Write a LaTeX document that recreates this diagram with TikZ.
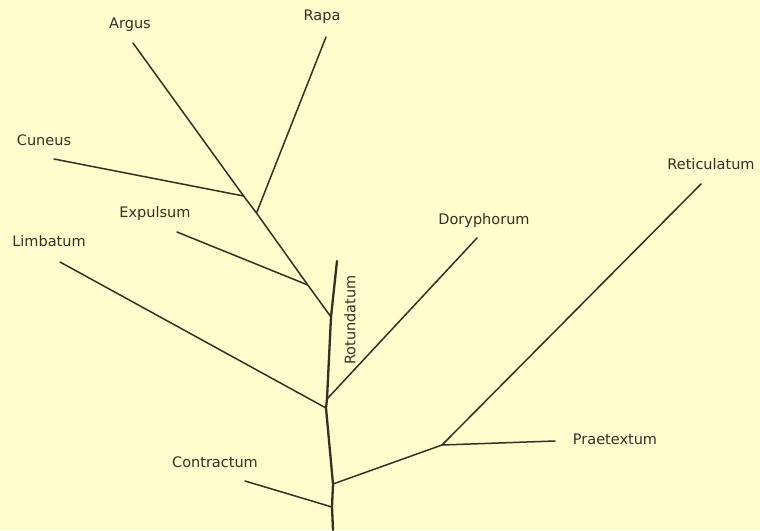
\documentclass[tikz,border=0pt]{standalone}
\usepackage{fontspec}
\setmainfont{DejaVu Sans}
\definecolor{bg}{RGB}{255,252,206}
\definecolor{ink}{RGB}{58,46,32}
\begin{document}
\begin{tikzpicture}[x=1pt,y=-1pt,
  branch/.style={draw=ink, line width=1.5pt, line cap=round, line join=round},
  trunkline/.style={branch, line width=2.3pt},
  lab/.style={text=ink, font=\fontsize{14.5}{16}\selectfont, inner sep=0pt}]
\fill[bg] (0,0) rectangle (760,530);
\useasboundingbox (0,0) rectangle (760,530);
% junctions
\coordinate (base) at (333,530);
\coordinate (jC) at (332,507);
\coordinate (jP) at (333,484);
\coordinate (jL) at (326,408);
\coordinate (jD) at (327,399);
\coordinate (jA) at (331,317);
\coordinate (rtop) at (337,261);
\coordinate (jE) at (307.8,285);
\coordinate (jR) at (256.5,213);
\coordinate (jCu) at (243.6,196);
\coordinate (jRP) at (442,445);
% leaf ends
\coordinate (eArgus) at (133,43);
\coordinate (eRapa) at (326,37);
\coordinate (eCuneus) at (54,159);
\coordinate (eExpulsum) at (177,232);
\coordinate (eLimbatum) at (60,262);
\coordinate (eDory) at (477,238);
\coordinate (eReti) at (701,184);
\coordinate (ePrae) at (555,441);
\coordinate (eContr) at (245,481);
% labels
\node[lab] (lArgus) at (130,25) {Argus};
\node[lab] (lRapa) at (322,17) {Rapa};
\node[lab] (lCuneus) at (44,140) {Cuneus};
\node[lab] (lExpulsum) at (155,213) {Expulsum};
\node[lab] (lLimbatum) at (49,241) {Limbatum};
\node[lab] (lDory) at (484,220) {Doryphorum};
\node[lab] (lReti) at (711,164) {Reticulatum};
\node[lab] (lPrae) at (615,439) {Praetextum};
\node[lab] (lContr) at (215,462) {Contractum};
\node[lab, rotate=90] (lRot) at (350,320) {Rotundatum};
% trunk
\draw[trunkline] (base) -- (jC) -- (jP) -- (jL) -- (jD) -- (jA) -- (rtop);
% branches
\draw[branch] (jA) -- (jE) -- (jR) -- (jCu) -- (eArgus);
\draw[branch] (jR) -- (eRapa);
\draw[branch] (jCu) -- (eCuneus);
\draw[branch] (jE) -- (eExpulsum);
\draw[branch] (jL) -- (eLimbatum);
\draw[branch] (jD) -- (eDory);
\draw[branch] (jP) -- (jRP) -- (eReti);
\draw[branch] (jRP) -- (ePrae);
\draw[branch] (jC) -- (eContr);
\end{tikzpicture}
\end{document}
